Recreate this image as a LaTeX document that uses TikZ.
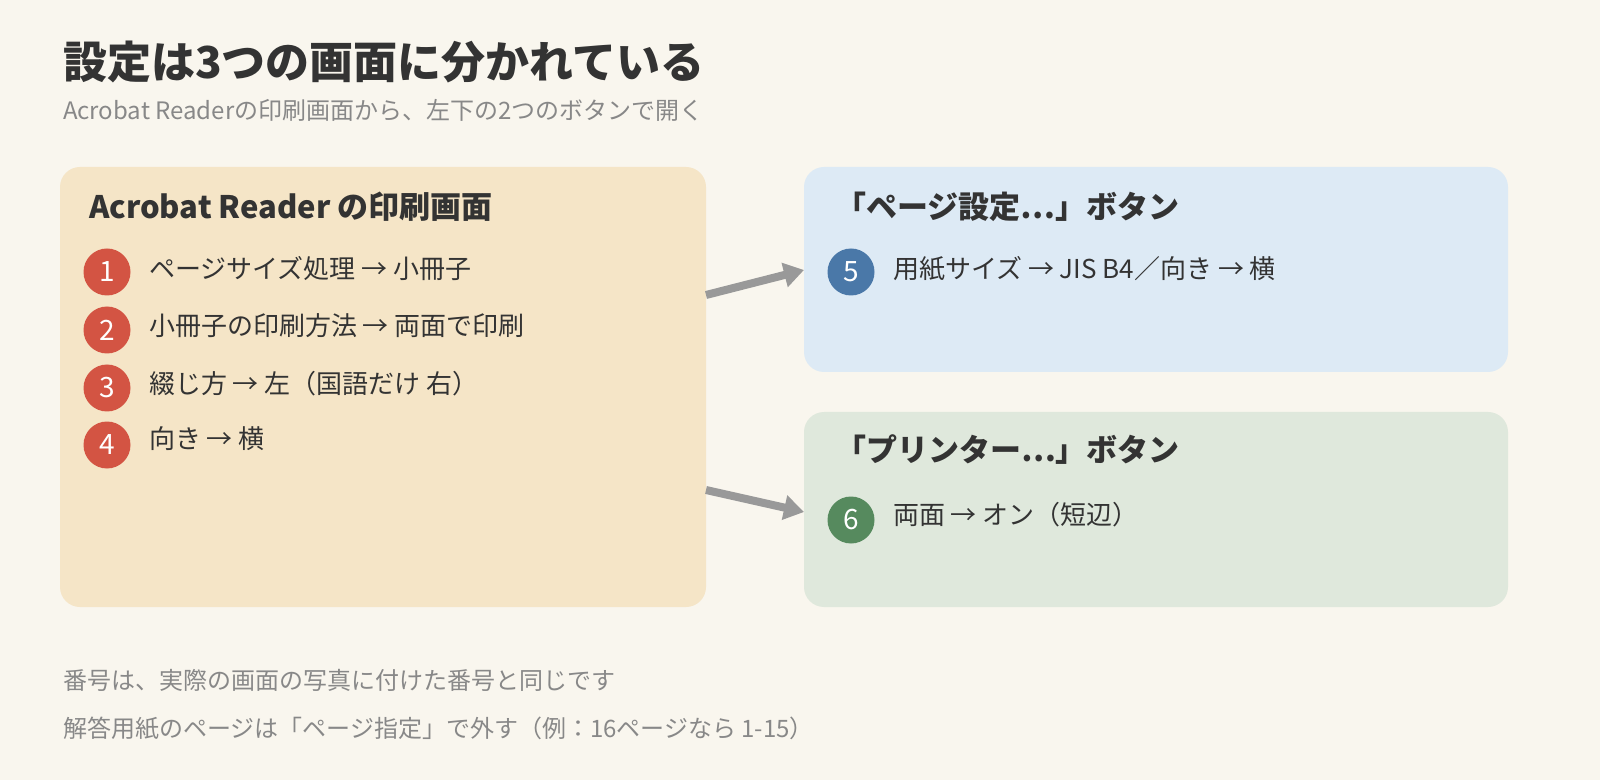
\documentclass[tikz,border=0pt]{standalone}
\usepackage{fontspec}
\setmainfont{Noto Sans CJK JP}
\usetikzlibrary{arrows.meta}
\definecolor{bg}{HTML}{F9F6EE}
\definecolor{boxA}{HTML}{F5E5C7}
\definecolor{boxB}{HTML}{DDEAF5}
\definecolor{boxC}{HTML}{DFE8DC}
\definecolor{red1}{HTML}{D35443}
\definecolor{blue1}{HTML}{4A78A8}
\definecolor{green1}{HTML}{568A5E}
\definecolor{txt}{HTML}{333333}
\definecolor{sub}{HTML}{888888}
\begin{document}
\begin{tikzpicture}[x=0.5pt,y=-0.5pt,
  box/.style={rounded corners=10pt},
  num/.style={circle,minimum size=23.5pt,inner sep=0pt,text=white,font=\fontsize{14}{14}\selectfont},
  item/.style={anchor=west,text=txt,font=\fontsize{13}{14}\selectfont},
  head/.style={anchor=west,text=txt,font=\fontsize{15.5}{16}\selectfont\bfseries},
  conn/.style={draw=black!40,line width=4pt,-{Triangle[length=10pt,width=12pt]}}]
\fill[bg] (0,0) rectangle (1600,780);
\node[anchor=west,text=txt,font=\fontsize{22}{22}\selectfont\bfseries] (title) at (56,62) {設定は3つの画面に分かれている};
\node[anchor=west,text=sub,font=\fontsize{12}{12}\selectfont] (subt) at (56,110) {Acrobat Readerの印刷画面から、左下の2つのボタンで開く};
\fill[boxA,box] (60,167) rectangle (706,607);
\coordinate (A1) at (706,295); \coordinate (A2) at (706,490);
\fill[boxB,box] (804,167) rectangle (1508,372);
\fill[boxC,box] (804,412) rectangle (1508,607);
\coordinate (B) at (804,270); \coordinate (C) at (804,512);
\node[head] (hA) at (82,207) {Acrobat Reader の印刷画面};
\node[num,fill=red1] (n1) at (107,272) {1};
\node[num,fill=red1] (n2) at (107,330) {2};
\node[num,fill=red1] (n3) at (107,388) {3};
\node[num,fill=red1] (n4) at (107,445) {4};
\node[item] (t1) at (142,269) {ページサイズ処理 → 小冊子};
\node[item] (t2) at (142,326) {小冊子の印刷方法 → 両面で印刷};
\node[item] (t3) at (142,384) {綴じ方 → 左（国語だけ 右）};
\node[item] (t4) at (142,439) {向き → 横};
\node[head] (hB) at (828,207) {「ページ設定…」ボタン};
\node[num,fill=blue1] (n5) at (851,272) {5};
\node[item] (t5) at (886,269) {用紙サイズ → JIS B4／向き → 横};
\node[head] (hC) at (828,450) {「プリンター…」ボタン};
\node[num,fill=green1] (n6) at (851,520) {6};
\node[item] (t6) at (886,515) {両面 → オン（短辺）};
\draw[conn] (A1) -- (B);
\draw[conn] (A2) -- (C);
\node[anchor=west,text=sub,font=\fontsize{12}{12}\selectfont] (f1) at (56,680) {番号は、実際の画面の写真に付けた番号と同じです};
\node[anchor=west,text=sub,font=\fontsize{12}{12}\selectfont] (f2) at (56,728) {解答用紙のページは「ページ指定」で外す（例：16ページなら 1-15）};
\end{tikzpicture}
\end{document}
